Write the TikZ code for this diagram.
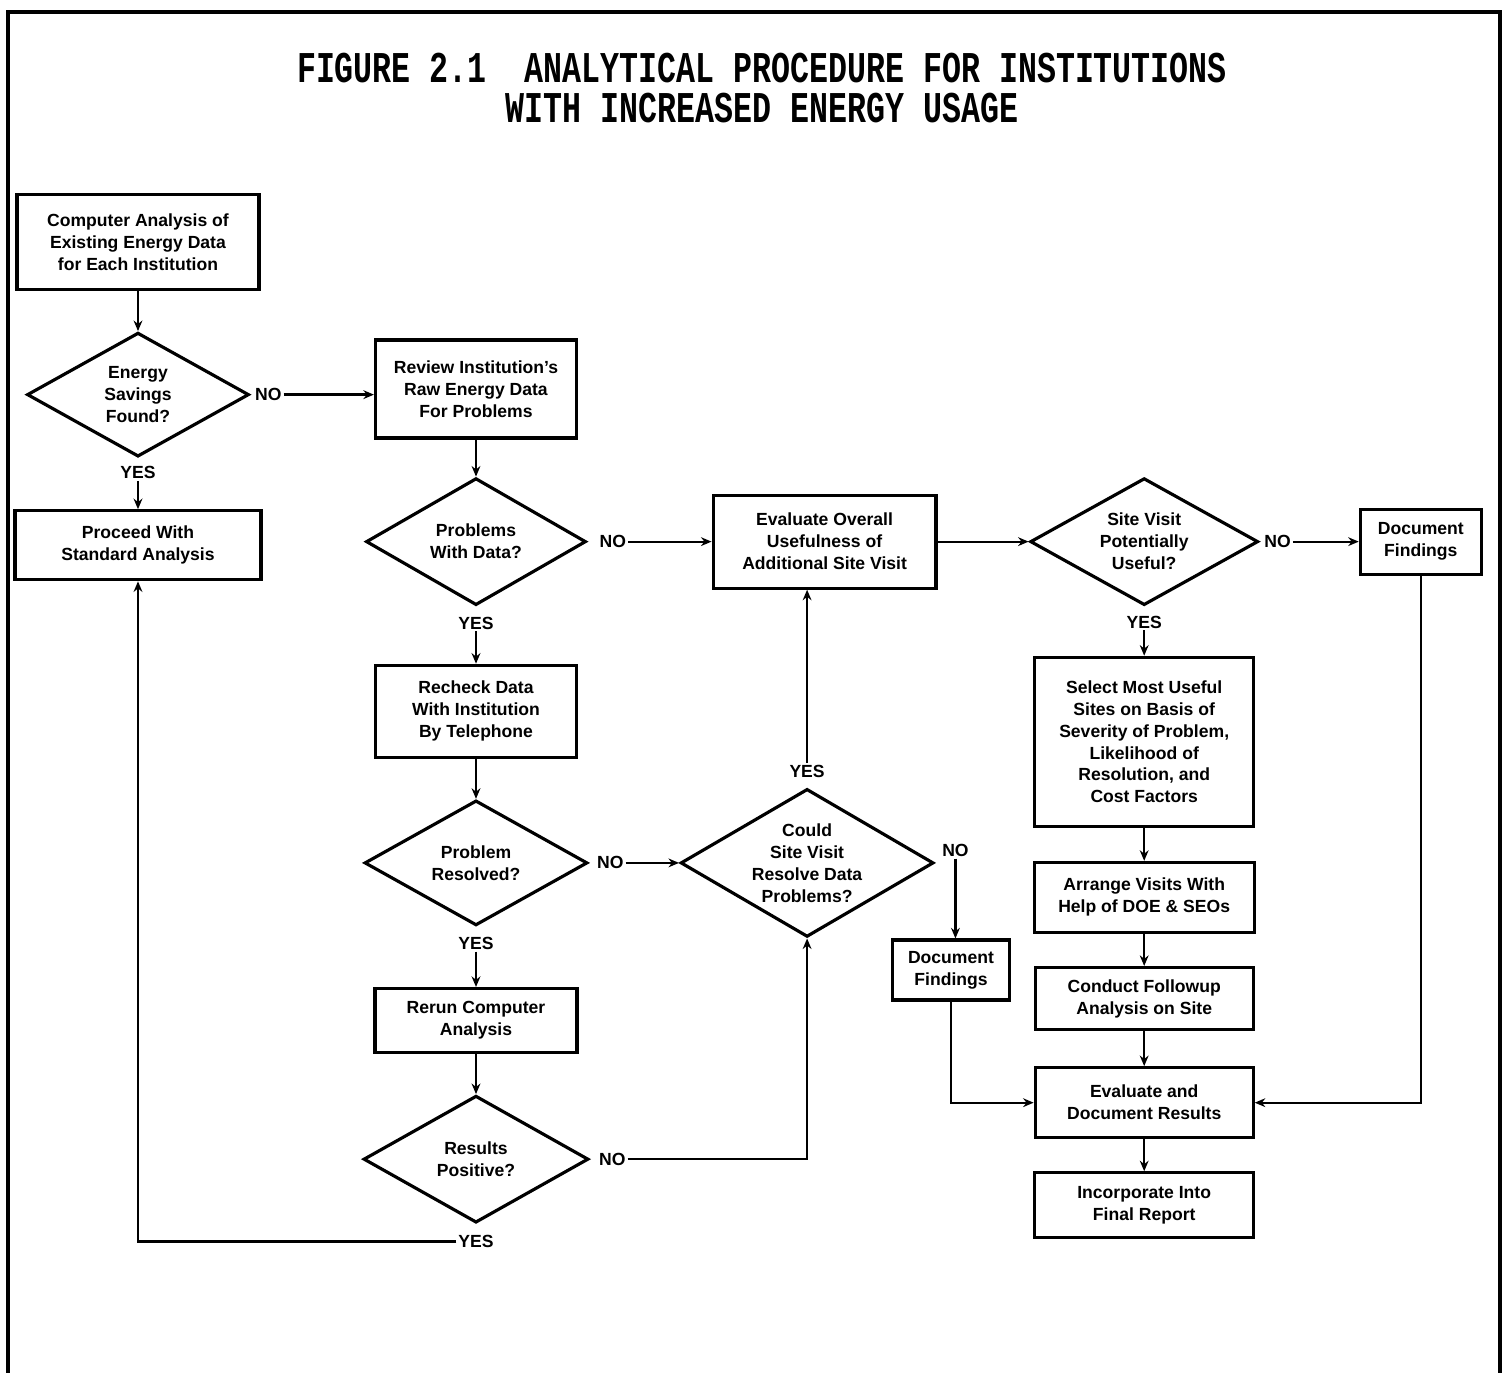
\documentclass[tikz,border=0pt]{standalone}
\usepackage{fontspec}
\usepackage{graphicx}
\setsansfont{Liberation Sans}
\newfontfamily\titlefont{Liberation Mono}
\usetikzlibrary{positioning,shapes.geometric,arrows.meta}
\begin{document}
\begin{tikzpicture}[
  x=0.02cm, y=-0.02cm,
  every node/.style={align=center, font=\sffamily\bfseries\fontsize{10}{12.5}\selectfont},
  heading/.style={font=\titlefont\bfseries\fontsize{25}{22}\selectfont, inner sep=0pt},
  box/.style={draw, line width=1.8pt, inner sep=2pt},
  decision/.style={draw, diamond, line width=1.8pt, aspect=1.75, inner sep=-6pt},
  answer/.style={inner sep=1pt},
  arrow/.style={-{Stealth[length=6pt,width=5pt]}, line width=1.3pt}
]
\useasboundingbox (0,0) rectangle (1505,1373);
\draw[line width=1.8pt] (8,1373) -- (8,12) -- (1500,12) -- (1500,1373);
\node (title) at (762,68) [heading] {\scalebox{0.72}[1]{FIGURE 2.1\ \ ANALYTICAL PROCEDURE FOR INSTITUTIONS}};
\node (subtitle) at (762,108) [heading] {\scalebox{0.72}[1]{WITH INCREASED ENERGY USAGE}};

\node (comp) at (138,242) [box, minimum width=4.84cm, minimum height=1.90cm] {Computer Analysis of\\Existing Energy Data\\for Each Institution};
\node (energy) [decision, below=0.80cm of comp, minimum width=4.44cm, minimum height=2.48cm] {Energy\\Savings\\Found?};
\node (noE) [answer, right=0.05cm of energy] {NO};
\node (yesE) [answer, below=0.12cm of energy] {YES};
\node (proceed) [box, below=1.02cm of energy, minimum width=4.92cm, minimum height=1.38cm] {Proceed With\\Standard Analysis};

\node (review) at (476,389) [box, minimum width=4.02cm, minimum height=1.96cm] {Review Institution's\\Raw Energy Data\\For Problems};
\node (problems) [decision, below=0.74cm of review, minimum width=4.40cm, minimum height=2.54cm] {Problems\\With Data?};
\node (noP) [answer, right=0.2cm of problems] {NO};
\node (yesP) [answer, below=0.16cm of problems] {YES};
\node (recheck) [box, below=1.14cm of problems, minimum width=4.02cm, minimum height=1.84cm] {Recheck Data\\With Institution\\By Telephone};
\node (resolved) [decision, below=0.80cm of recheck, minimum width=4.46cm, minimum height=2.50cm] {Problem\\Resolved?};
\node (noRs) [answer, right=0.12cm of resolved] {NO};
\node (yesRs) [answer, below=0.16cm of resolved] {YES};
\node (rerun) [box, below=1.20cm of resolved, minimum width=4.04cm, minimum height=1.28cm] {Rerun Computer\\Analysis};
\node (results) [decision, below=0.80cm of rerun, minimum width=4.50cm, minimum height=2.54cm] {Results\\Positive?};
\node (noRt) [answer, right=0.14cm of results] {NO};
\node (yesRt) [answer, below=0.18cm of results] {YES};

\node (evaluate) [box, right=2.48cm of problems, minimum width=4.46cm, minimum height=1.86cm] {Evaluate Overall\\Usefulness of\\Additional Site Visit};
\node (could) [decision, right=1.8cm of resolved, minimum width=5.06cm, minimum height=2.96cm] {Could\\Site Visit\\Resolve Data\\Problems?};
\node (yesC) [answer, above=0.16cm of could] {YES};
\node (noC) [answer, right=0.1cm of could, yshift=0.25cm] {NO};
\node (docA) at (951,970) [box, minimum width=2.34cm, minimum height=1.20cm] {Document\\Findings};

\node (site) [decision, right=1.82cm of evaluate, minimum width=4.56cm, minimum height=2.54cm] {Site Visit\\Potentially\\Useful?};
\node (noS) [answer, right=0.05cm of site] {NO};
\node (yesS) [answer, below=0.14cm of site] {YES};
\node (docB) [box, right=1.98cm of site, minimum width=2.42cm, minimum height=1.30cm] {Document\\Findings};
\node (select) [box, below=0.98cm of site, minimum width=4.38cm, minimum height=3.38cm] {Select Most Useful\\Sites on Basis of\\Severity of Problem,\\Likelihood of\\Resolution, and\\Cost Factors};
\node (arrange) [box, below=0.66cm of select, minimum width=4.40cm, minimum height=1.40cm] {Arrange Visits With\\Help of DOE \& SEOs};
\node (conduct) [box, below=0.64cm of arrange, minimum width=4.36cm, minimum height=1.24cm] {Conduct Followup\\Analysis on Site};
\node (evaldoc) [box, below=0.70cm of conduct, minimum width=4.36cm, minimum height=1.40cm] {Evaluate and\\Document Results};
\node (incorp) [box, below=0.64cm of evaldoc, minimum width=4.38cm, minimum height=1.30cm] {Incorporate Into\\Final Report};

\draw[arrow] (comp) -- (energy);
\draw[arrow] (noE) -- (noE -| review.west);
\draw[arrow] (yesE) -- (proceed);
\draw[arrow] (review) -- (problems);
\draw[arrow] (noP) -- (evaluate);
\draw[arrow] (yesP) -- (recheck);
\draw[arrow] (recheck) -- (resolved);
\draw[arrow] (noRs) -- (could);
\draw[arrow] (yesRs) -- (rerun);
\draw[arrow] (rerun) -- (results);
\draw[arrow] (noRt) -| (could.south);
\draw[arrow] (yesRt) -| (proceed.south);
\draw[arrow] (yesC) -- (yesC |- evaluate.south);
\draw[arrow] (noC) -- (noC |- docA.north);
\draw[arrow] (evaluate) -- (site);
\draw[arrow] (noS) -- (docB);
\draw[arrow] (yesS) -- (select);
\draw[arrow] (select) -- (arrange);
\draw[arrow] (arrange) -- (conduct);
\draw[arrow] (conduct) -- (evaldoc);
\draw[arrow] (docA) |- (evaldoc);
\draw[arrow] (docB) |- (evaldoc);
\draw[arrow] (evaldoc) -- (incorp);
\end{tikzpicture}
\end{document}
